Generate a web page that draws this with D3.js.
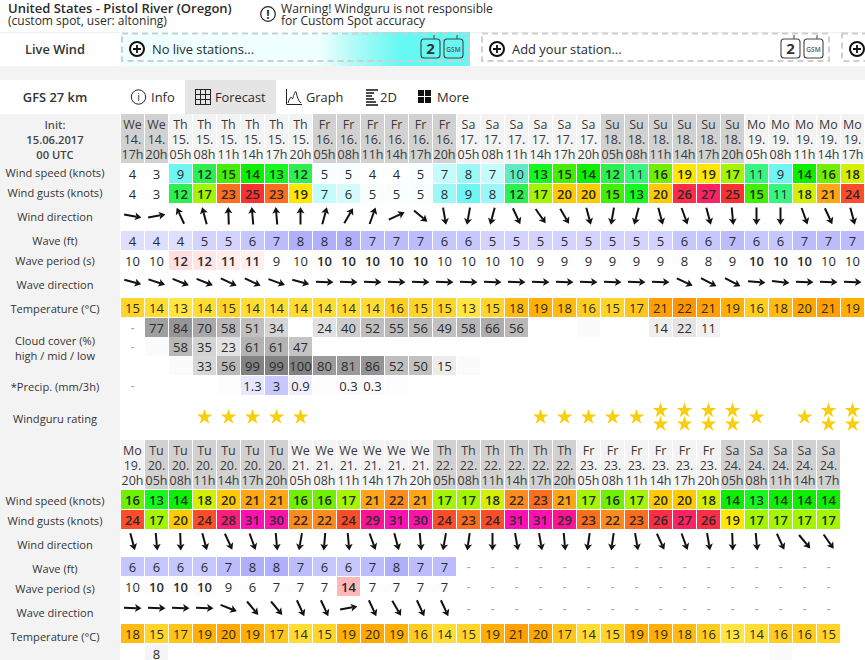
<!DOCTYPE html>
<html>
<head>
<meta charset="utf-8">
<script src="https://cdn.jsdelivr.net/npm/d3@7"></script>
<style>
html, body { margin: 0; padding: 0; background: #fff; overflow: hidden; width: 865px; height: 660px; }
svg { display: block; }
text { font-family: "Open Sans", sans-serif; fill: #2b2b2b; }
</style>
</head>
<body>
<div class="forecast"></div>
<script>
// first block, 31 time steps
var days1 = ["We","We","Th","Th","Th","Th","Th","Th","Fr","Fr","Fr","Fr","Fr","Fr","Sa","Sa","Sa","Sa","Sa","Sa","Su","Su","Su","Su","Su","Su","Mo","Mo","Mo","Mo","Mo"];
var dates1 = ["14.","14.","15.","15.","15.","15.","15.","15.","16.","16.","16.","16.","16.","16.","17.","17.","17.","17.","17.","17.","18.","18.","18.","18.","18.","18.","19.","19.","19.","19.","19."];
var hours1 = ["17h","20h","05h","08h","11h","14h","17h","20h","05h","08h","11h","14h","17h","20h","05h","08h","11h","14h","17h","20h","05h","08h","11h","14h","17h","20h","05h","08h","11h","14h","17h"];
var speed1 = [4,3,9,12,15,14,13,12,5,5,4,4,5,7,8,7,10,13,15,14,12,11,16,19,19,17,11,9,14,16,18];
var gusts1 = [4,3,12,17,23,25,23,19,7,6,5,5,5,8,9,8,12,17,20,20,15,13,20,26,27,25,15,11,18,21,24];
var windDir1 = [100,80,335,345,358,355,355,0,15,30,20,65,130,170,190,195,155,145,150,165,190,195,165,160,165,175,180,180,160,155,165];
var wave1 = [4,4,4,5,5,6,7,8,8,8,7,7,7,6,6,5,5,5,5,5,5,5,5,6,6,7,6,6,7,7,7];
var period1 = [9.9,9.9,12,11.6,11.1,10.9,9,9.9,10.2,10.2,10.2,10.2,10.2,9.9,9.9,9.9,9.9,9,9,9,9,9,9,8,8,9,10.1,10.1,10.1,9.9,9.9];
var waveDir1 = [105,108,112,112,115,115,110,105,92,92,92,92,92,92,92,92,92,92,92,92,92,92,92,115,118,118,95,97,92,92,92];
var temp1 = [15,14,13,14,15,14,14,14,14,14,14,16,15,15,13,15,18,19,18,16,15,17,21,22,21,19,16,18,20,21,19];
var cloudHigh1 = ["-",77,84,70,58,51,34,null,24,40,52,55,56,49,58,66,56,null,null,3,null,null,14,22,11,null,null,null,null,null,null];
var cloudMid1 = ["-",3,58,35,23,61,61,47,null,null,null,null,null,null,null,null,null,null,null,null,null,null,null,null,null,null,null,null,null,null,null];
var cloudLow1 = [null,null,3,33,56,99,99,100,80,81,86,52,50,15,3,null,null,null,null,null,null,null,null,null,null,null,null,null,null,null,null];
var precip1 = ["-",null,null,null,0.1,1.3,3,0.9,0.1,0.3,0.3,0.1,null,null,null,null,null,null,null,null,null,null,null,null,null,null,null,null,null,null,null];
var rating1 = [0,0,0,1,1,1,1,1,0,0,0,0,0,0,0,0,0,1,1,1,1,1,2,2,2,2,1,0,1,2,2];

// second block, 30 time steps
var days2 = ["Mo","Tu","Tu","Tu","Tu","Tu","Tu","We","We","We","We","We","We","Th","Th","Th","Th","Th","Th","Fr","Fr","Fr","Fr","Fr","Fr","Sa","Sa","Sa","Sa","Sa"];
var dates2 = ["19.","20.","20.","20.","20.","20.","20.","21.","21.","21.","21.","21.","21.","22.","22.","22.","22.","22.","22.","23.","23.","23.","23.","23.","23.","24.","24.","24.","24.","24."];
var hours2 = ["20h","05h","08h","11h","14h","17h","20h","05h","08h","11h","14h","17h","20h","05h","08h","11h","14h","17h","20h","05h","08h","11h","14h","17h","20h","05h","08h","11h","14h","17h"];
var speed2 = [16,13,14,18,20,21,21,16,16,17,21,22,21,17,17,18,22,23,21,17,16,17,20,20,18,14,13,14,14,14];
var gusts2 = [24,17,20,24,28,31,30,22,22,24,29,31,30,24,23,24,31,31,29,23,22,23,26,27,26,19,17,17,17,17];
var windDir2 = [165,175,178,165,155,160,175,190,185,175,160,165,175,190,188,180,170,170,175,188,188,170,155,160,170,178,175,155,140,145];
var wave2 = [6,6,6,6,7,8,8,7,6,6,7,8,7,7,"-","-","-","-","-","-","-","-","-","-","-","-","-","-","-","-"];
var period2 = [9.9,10.2,10.2,10.3,9,6,7,7,7,14.4,7,7,7,7,"-","-","-","-","-","-","-","-","-","-","-","-","-","-","-","-"];
var waveDir2 = [92,92,92,92,112,140,140,155,155,80,155,150,155,155,"-","-","-","-","-","-","-","-","-","-","-","-","-","-","-","-"];
var temp2 = [18,15,17,19,20,19,17,14,15,19,20,19,16,14,15,19,21,20,17,14,15,19,19,18,16,13,14,16,16,15];
var cloudHigh2 = [null,8,null,null,null,null,null,null,null,null,null,null,null,null,null,null,null,null,null,null,null,null,null,null,null,null,null,3,null,null];

var WIDTH = 865, HEIGHT = 660;

var svg = d3.select(".forecast").append("svg")
    .attr("width", WIDTH)
    .attr("height", HEIGHT);

// colour scales, stops
var windColor = d3.scaleLinear()
    .domain([3,4,5,6,7,8,9,10,11,12,13,14,15,16,17,18,19,20,21,22,23,24,25,26,27,28,29,30,31])
    .range(["#ffffff","#ffffff","#f8ffff","#d4fcfc","#c4fbfb","#9cf8f8","#6ff5f2","#5eeac4","#38f580","#2cf050","#14fa1e","#0cf000","#44ee00","#70f000","#a4f500","#d2f000","#ffe800","#ffca00","#ffa614","#ff8a1e","#ff6e1e","#ff4d2c","#ff3030","#ff2d45","#ff2366","#ff1e7a","#ff1493","#ff14a8","#ff0fb4"])
    .clamp(true);
var waveColor = d3.scaleLinear().domain([4,8]).range(["#dedeff","#b0b0ff"]);
var periodColor = d3.scaleLinear().domain([10,14.4]).range(["#ffffff","#ffb8b8"]).clamp(true);
var tempColor = d3.scaleLinear()
    .domain([13,14,15,16,17,18,19,20,21,22])
    .range(["#ffe640","#ffdd33","#ffd52a","#ffcc20","#ffc61a","#ffbb10","#ffb000","#ffa800","#ffa000","#ff9500"])
    .clamp(true);
var cloudColor = d3.scaleLinear().domain([0,100]).range(["#ffffff","#828282"]);
var precipColor = d3.scaleLinear().domain([0,3]).range(["#ffffff","#c8c8ff"]);

var x = d3.scaleBand().domain(d3.range(31)).range([121, 864]).paddingInner(1 / 24);

function addText(parent, px, py, str, size, opts) {
    opts = opts || {};
    return parent.append("text")
        .attr("x", px)
        .attr("y", py)
        .attr("text-anchor", opts.anchor || "start")
        .attr("font-size", size)
        .attr("font-weight", opts.weight || 400)
        .style("fill", opts.color || null)
        .text(str);
}

// ---- page furniture ----
var bgLayer = svg.append("g");
bgLayer.append("rect").attr("x", 0).attr("y", 66).attr("width", WIDTH).attr("height", 14).attr("fill", "#f3f3f3");
bgLayer.append("rect").attr("x", 0).attr("y", 114).attr("width", 120).attr("height", HEIGHT - 114).attr("fill", "#f3f3f3");
bgLayer.append("rect").attr("x", 0).attr("y", 32).attr("width", WIDTH).attr("height", 1).attr("fill", "#f0f0f0");

addText(svg, 8, 13, "United States - Pistol River (Oregon)", 13, {weight: 600});
addText(svg, 8, 25, "(custom spot, user: altoning)", 12);

svg.append("circle").attr("cx", 268).attr("cy", 14).attr("r", 7.3).attr("fill", "none").attr("stroke", "#222").attr("stroke-width", 1.2);
addText(svg, 268, 18.5, "!", 12, {anchor: "middle", weight: 700});
addText(svg, 281, 13, "Warning! Windguru is not responsible", 12.1);
addText(svg, 281, 25, "for Custom Spot accuracy", 12.1);

addText(svg, 55, 54, "Live Wind", 12.8, {anchor: "middle", weight: 600, color: "#333"});
addText(svg, 55, 102, "GFS 27 km", 12.9, {anchor: "middle", weight: 600, color: "#333"});

var grad = svg.append("defs").append("linearGradient").attr("id", "liveFill");
[[0, "#effefe"], [0.57, "#f0ffff"], [0.66, "#b4fbf8"], [0.8, "#66f8f2"], [1, "#66f8f2"]].forEach(function (s) {
    grad.append("stop").attr("offset", s[0]).attr("stop-color", s[1]);
});
svg.append("rect").attr("x", 120).attr("y", 32).attr("width", 350).attr("height", 34).attr("fill", "url(#liveFill)");

function dashedBox(x0, w) {
    svg.append("rect").attr("x", x0).attr("y", 33.5).attr("width", w).attr("height", 27.5)
        .attr("fill", "none").attr("stroke", "#cfcfcf").attr("stroke-width", 2).attr("stroke-dasharray", "6 4");
}
function plusIcon(cx) {
    svg.append("circle").attr("cx", cx).attr("cy", 49).attr("r", 7).attr("fill", "#fff").attr("stroke", "#111").attr("stroke-width", 2);
    svg.append("path").attr("d", "M" + (cx - 4) + " 49H" + (cx + 4) + "M" + cx + " 45V53").attr("stroke", "#111").attr("stroke-width", 1.8);
}
function deviceIcons(x0) {
    svg.append("rect").attr("x", x0).attr("y", 39).attr("width", 19).attr("height", 19).attr("rx", 3).attr("fill", "none").attr("stroke", "#444").attr("stroke-width", 1.1);
    svg.append("path").attr("d", "M" + (x0 + 13) + " 35V39").attr("stroke", "#444");
    addText(svg, x0 + 9.5, 54, "2", 15, {anchor: "middle", weight: 700, color: "#333"});
    svg.append("rect").attr("x", x0 + 23).attr("y", 39).attr("width", 19).attr("height", 19).attr("rx", 3).attr("fill", "none").attr("stroke", "#444").attr("stroke-width", 1.1);
    svg.append("path").attr("d", "M" + (x0 + 36) + " 35V39").attr("stroke", "#444");
    addText(svg, x0 + 32.5, 51.5, "GSM", 6.5, {anchor: "middle", weight: 600, color: "#555"});
}
dashedBox(122, 347);
dashedBox(482, 347);
dashedBox(842, 40);
plusIcon(137); plusIcon(497); plusIcon(857);
addText(svg, 152, 54, "No live stations...", 12.9);
addText(svg, 512, 54, "Add your station...", 12.9);
deviceIcons(421); deviceIcons(781);

// tabs
svg.append("rect").attr("x", 185).attr("y", 80).attr("width", 91).attr("height", 34).attr("fill", "#e5e5e5");
svg.append("circle").attr("cx", 138.5).attr("cy", 97).attr("r", 7.2).attr("fill", "none").attr("stroke", "#222").attr("stroke-width", 1);
addText(svg, 138.5, 101, "i", 10.5, {anchor: "middle"});
addText(svg, 151, 102, "Info", 13);
var gridIcon = svg.append("g").attr("stroke", "#222").attr("stroke-width", 1).attr("fill", "none");
gridIcon.append("rect").attr("x", 195.5).attr("y", 89.5).attr("width", 15).attr("height", 15);
gridIcon.append("path").attr("d", "M200.5 89.5V104.5M205.5 89.5V104.5M195.5 94.5H210.5M195.5 99.5H210.5");
addText(svg, 215, 102, "Forecast", 12.8);
svg.append("path").attr("d", "M286.5 89V104.5H302").attr("fill", "none").attr("stroke", "#222");
svg.append("path").attr("d", "M288 103C290 97 291 96 292.5 99C294 95 295 90 296 92C297 96 298 101 301 103").attr("fill", "none").attr("stroke", "#222");
addText(svg, 306, 102, "Graph", 12.8);
svg.append("path").attr("d", "M366 90H378M366 93H374M366 96H372M366 99H374M366 102H376M366 105H378").attr("stroke", "#111").attr("stroke-width", 1.3);
addText(svg, 380, 102, "2D", 13);
[[418, 90], [425, 90], [418, 97], [425, 97]].forEach(function (p) {
    svg.append("rect").attr("x", p[0]).attr("y", p[1]).attr("width", 6).attr("height", 6).attr("fill", "#111");
});
addText(svg, 437, 102, "More", 13);

// Init labels
addText(svg, 55, 129, "Init:", 11.2, {anchor: "middle", weight: 600, color: "#555"});
addText(svg, 55, 144, "15.06.2017", 11.2, {anchor: "middle", weight: 600, color: "#444"});
addText(svg, 55, 159, "00 UTC", 11.2, {anchor: "middle", weight: 600, color: "#444"});

// ---- table helpers ----
function drawHeader(top, days, dates, hours) {
    var darkDays = top < 300 ? ["We","Fr","Su"] : ["Tu","Th","Sa"];
    var g = svg.append("g");
    var cols = g.selectAll("g").data(d3.range(days.length)).join("g")
        .attr("transform", function (i) { return "translate(" + x(i) + "," + top + ")"; });
    cols.append("rect")
        .attr("width", x.bandwidth()).attr("height", 49)
        .attr("fill", function (i) { return darkDays.indexOf(days[i]) >= 0 ? "#d1d1d1" : "#f3f3f3"; });
    [[days, 15], [dates, 30], [hours, 45]].forEach(function (line) {
        cols.append("text")
            .attr("x", x.bandwidth() / 2).attr("y", line[1])
            .attr("text-anchor", "middle").attr("font-size", 12.5)
            .style("fill", "#3a3a3a")
            .text(function (i) { return line[0][i]; });
    });
}

function drawRow(top, values, color, fmt, isBold, minText) {
    var g = svg.append("g");
    var cells = g.selectAll("g").data(values).join("g")
        .attr("transform", function (d, i) { return "translate(" + x(i) + "," + top + ")"; });
    cells.filter(function (d) { return typeof d === "number"; }).append("rect")
        .attr("width", x.bandwidth()).attr("height", 19)
        .attr("fill", function (d) { return color(d); });
    cells.filter(function (d) { return d === "-"; }).append("text")
        .attr("x", x.bandwidth() / 2).attr("y", 14)
        .attr("text-anchor", "middle").attr("font-size", 10)
        .attr("font-weight", 600)
        .style("fill", "#999").text("-");
    cells.filter(function (d) { return typeof d === "number" && d >= minText; }).append("text")
        .attr("x", x.bandwidth() / 2).attr("y", 14.5)
        .attr("text-anchor", "middle").attr("font-size", 13)
        .attr("font-weight", function (d) { return isBold(d) ? 600 : 400; })
        .text(fmt);
}

function drawArrows(cy, values) {
    var arrow = d3.path();
    arrow.moveTo(0, 8.5); arrow.lineTo(0, -4);
    var head = d3.path();
    head.moveTo(0, -9); head.lineTo(4, -2.5); head.lineTo(0, -4); head.lineTo(-4, -2.5); head.closePath();
    var g = svg.append("g");
    var marks = g.selectAll("g").data(values).join("g")
        .attr("transform", function (d, i) { return "translate(" + (x(i) + x.bandwidth() / 2) + "," + cy + ")"; });
    var arrows = marks.filter(function (d) { return typeof d === "number"; }).append("g")
        .attr("transform", function (d) { return "rotate(" + d + ")"; });
    arrows.append("path").attr("d", arrow.toString()).attr("stroke", "#111").attr("stroke-width", 2).attr("fill", "none");
    arrows.append("path").attr("d", head.toString()).attr("fill", "#111");
    marks.filter(function (d) { return d === "-"; }).append("text")
        .attr("y", 5).attr("text-anchor", "middle").attr("font-size", 10)
        .attr("font-weight", 600)
        .style("fill", "#999").text("-");
}

function drawStars(centerY, ratings) {
    var star = d3.symbol().type(d3.symbolStar).size(76)();
    ratings.forEach(function (n, i) {
        var ys = n === 2 ? [centerY - 6.5, centerY + 7] : (n === 1 ? [centerY] : []);
        svg.selectAll(null).data(ys).join("path")
            .attr("d", star)
            .attr("fill", "#f9cf0b")
            .attr("transform", function (y) { return "translate(" + (x(i) + x.bandwidth() / 2) + "," + y + ")"; });
    });
}

function drawLabels(items) {
    items.forEach(function (it) {
        addText(svg, 55, it[1], it[0], 11.1, {anchor: "middle", color: "#333"});
    });
}

var round = function (d) { return Math.round(d); };
var plain = function (d) { return d; };
var never = function () { return false; };
var windBold = function (d) { return d >= 12; };
var periodBold = function (d) { return d >= 10.05; };

// ---- first block ----
drawHeader(114, days1, dates1, hours1);
drawRow(164, speed1, windColor, plain, windBold, 0);
drawRow(184, gusts1, windColor, plain, windBold, 0);
drawArrows(216, windDir1);
drawRow(231, wave1, waveColor, plain, never, 0);
drawRow(251, period1, periodColor, round, periodBold, 0);
drawArrows(282, waveDir1);
drawRow(298, temp1, tempColor, plain, never, 0);
drawRow(318, cloudHigh1, cloudColor, plain, never, 5);
drawRow(337, cloudMid1, cloudColor, plain, never, 5);
drawRow(356, cloudLow1, cloudColor, plain, never, 5);
drawRow(376, precip1, precipColor, plain, never, 0.2);
drawStars(417, rating1);
drawLabels([["Wind speed (knots)", 177], ["Wind gusts (knots)", 197], ["Wind direction", 221], ["Wave (ft)", 245], ["Wave period (s)", 265], ["Wave direction", 289], ["Temperature (°C)", 313], ["Cloud cover (%)", 345], ["high / mid / low", 360], ["*Precip. (mm/3h)", 391], ["Windguru rating", 423]]);

// ---- second block ----
drawHeader(440, days2, dates2, hours2);
drawRow(490, speed2, windColor, plain, windBold, 0);
drawRow(510, gusts2, windColor, plain, windBold, 0);
drawArrows(541.5, windDir2);
drawRow(557, wave2, waveColor, plain, never, 0);
drawRow(577, period2, periodColor, round, periodBold, 0);
drawArrows(608, waveDir2);
drawRow(624, temp2, tempColor, plain, never, 0);
drawRow(644, cloudHigh2, cloudColor, plain, never, 5);
drawLabels([["Wind speed (knots)", 505], ["Wind gusts (knots)", 525], ["Wind direction", 549], ["Wave (ft)", 573], ["Wave period (s)", 593], ["Wave direction", 617], ["Temperature (°C)", 641]]);
</script>
</body>
</html>
